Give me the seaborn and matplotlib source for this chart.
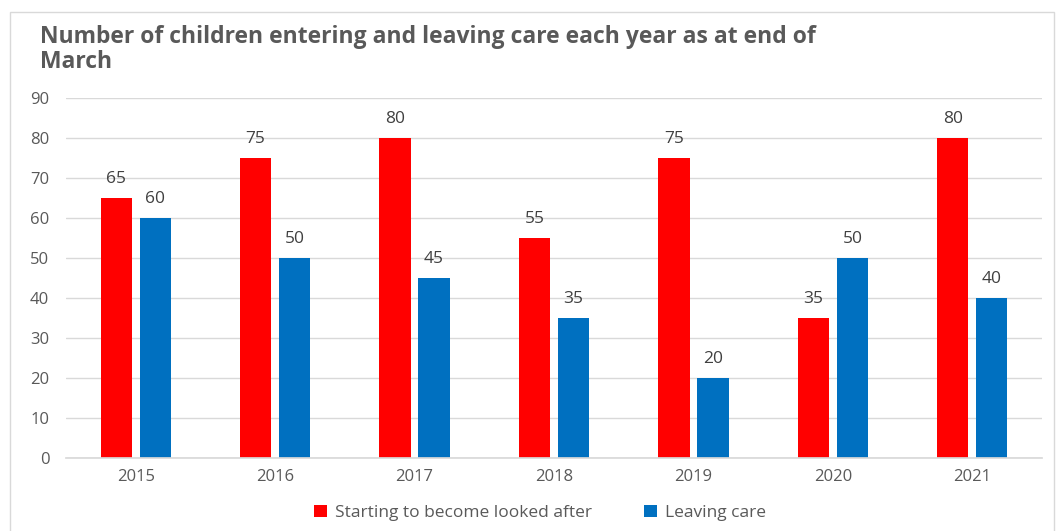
import matplotlib
matplotlib.use("Agg")
import matplotlib.pyplot as plt
import seaborn as sns
import pandas as pd
from matplotlib.patches import Rectangle

years = ["2015", "2016", "2017", "2018", "2019", "2020", "2021"]
starting = [65, 75, 80, 55, 75, 35, 80]
leaving = [60, 50, 45, 35, 20, 50, 40]
series_names = ["Starting to become looked after", "Leaving care"]
colors = ["#FF0000", "#0070C0"]
yticks = [0, 10, 20, 30, 40, 50, 60, 70, 80, 90]
title_lines = ["Number of children entering and leaving care each year as at end of", "March"]

df = pd.DataFrame({
    "Year": years * 2,
    "Value": starting + leaving,
    "Series": [series_names[0]] * len(years) + [series_names[1]] * len(years),
})

sns.set_theme(style="white")
plt.rcParams["font.family"] = ["Open Sans", "DejaVu Sans"]

fig = plt.figure(figsize=(10.56, 5.31), dpi=100)
ax = fig.add_axes([66 / 1056, 1 - 458 / 531, 976 / 1056, 360 / 531])

sns.barplot(data=df, x="Year", y="Value", hue="Series", palette=colors,
            width=0.56, gap=0.2, ax=ax, legend=True, saturation=1,
            linewidth=0, edgecolor="none")

ax.set_ylim(0, 90)
ax.set_yticks(yticks)
ax.set_xlim(-0.5, len(years) - 0.5)
ax.grid(axis="y", color="#D9D9D9", linewidth=1)
ax.set_axisbelow(True)
for s in ["top", "right", "left"]:
    ax.spines[s].set_visible(False)
ax.spines["bottom"].set_color("#D9D9D9")
ax.set_xlabel("")
ax.set_ylabel("")
ax.tick_params(axis="both", length=0, labelsize=12, labelcolor="#595959")
ax.tick_params(axis="y", pad=12)
ax.tick_params(axis="x", pad=8)

for cont in ax.containers:
    ax.bar_label(cont, fmt="%d", padding=8, fontsize=12.5, color="#404040")

handles, labels = ax.get_legend_handles_labels()
ax.legend(handles, labels, loc="center", bbox_to_anchor=(0.486, 1 - (513 - 98) / 360),
          ncol=2, frameon=False, fontsize=12.5, labelcolor="#595959",
          handlelength=0.7, handleheight=0.7, columnspacing=3.0, handletextpad=0.5)

fig.text(40 / 1056, 1 - 37 / 531, title_lines[0],
         fontsize=16.5, fontweight="bold", color="#595959", va="center", ha="left")
fig.text(40 / 1056, 1 - 62 / 531, title_lines[1],
         fontsize=16.5, fontweight="bold", color="#595959", va="center", ha="left")

fig.patches.append(Rectangle((10 / 1056, -0.1), 1044 / 1056, 1.1 - 12 / 531,
                             transform=fig.transFigure, fill=False,
                             edgecolor="#D9D9D9", linewidth=1))

fig.savefig("out.png", dpi=100)
